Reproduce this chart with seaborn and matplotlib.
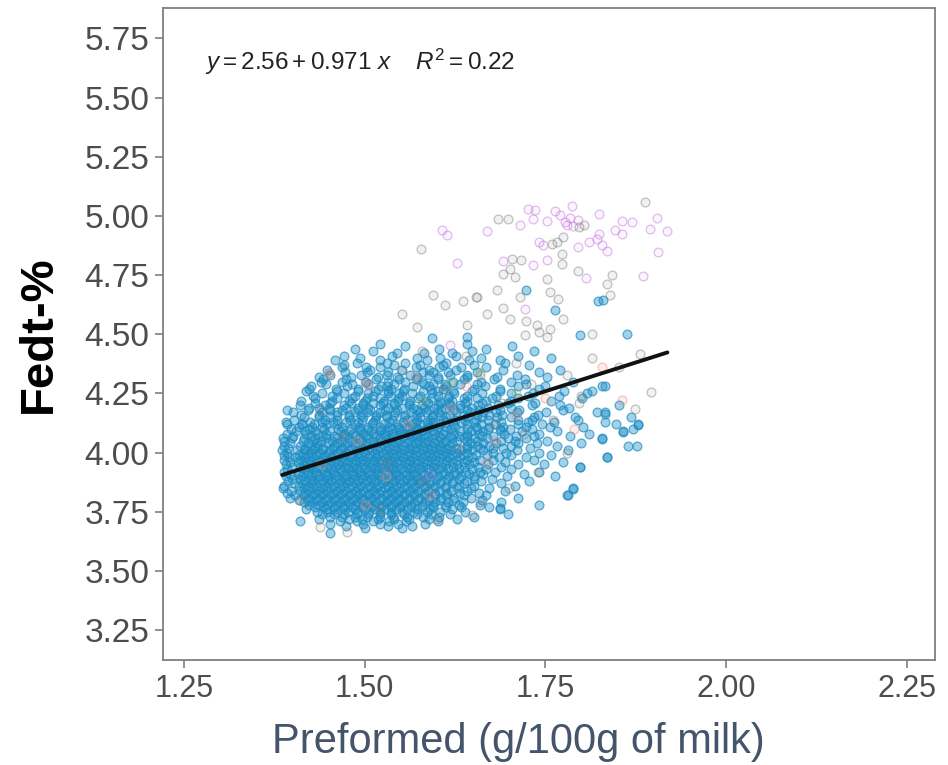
import pandas as pd
import matplotlib
matplotlib.use("Agg")
import matplotlib.pyplot as plt
import seaborn as sns
from matplotlib.colors import to_rgba

# fitted line as printed on the chart
intercept = 2.56
slope = 0.971
r2 = 0.22

x_ticks = [1.25, 1.50, 1.75, 2.00, 2.25]
y_ticks = [3.25, 3.50, 3.75, 4.00, 4.25, 4.50, 4.75, 5.00, 5.25, 5.50, 5.75]

# main blue cloud, read row by row (fat %, list of preformed values)
blue_rows = [
    (4.46, [1.521, 1.642]),
    (4.45, [1.556, 1.704]),
    (4.44, [1.603, 1.668, 1.487]),
    (4.43, [1.512, 1.648, 1.735]),
    (4.42, [1.582, 1.621, 1.545]),
    (4.41, [1.538, 1.627, 1.712, 1.471]),
    (4.40, [1.493, 1.572, 1.661, 1.758, 1.604]),
    (4.39, [1.521, 1.586, 1.645, 1.459, 1.688]),
    (4.38, [1.489, 1.556, 1.612, 1.694, 1.531]),
    (4.37, [1.471, 1.541, 1.609, 1.728, 1.577, 1.652]),
    (4.36, [1.468, 1.521, 1.571, 1.603, 1.668, 1.502, 1.633]),
    (4.35, [1.507, 1.552, 1.626, 1.692, 1.771, 1.448, 1.589]),
    (4.34, [1.473, 1.532, 1.581, 1.594, 1.656, 1.742, 1.615, 1.503]),
    (4.33, [1.452, 1.495, 1.531, 1.563, 1.618, 1.711, 1.642, 1.589]),
    (4.32, [1.481, 1.545, 1.601, 1.642, 1.683, 1.752, 1.437, 1.518, 1.572]),
    (4.31, [1.474, 1.516, 1.548, 1.571, 1.601, 1.637, 1.679, 1.442, 1.722]),
    (4.30, [1.439, 1.502, 1.579, 1.622, 1.661, 1.703, 1.789, 1.533, 1.468, 1.556]),
    (4.29, [1.447, 1.504, 1.541, 1.582, 1.595, 1.632, 1.724, 1.483, 1.655, 1.611]),
    (4.28, [1.476, 1.522, 1.531, 1.567, 1.612, 1.666, 1.712, 1.828, 1.426, 1.589, 1.749, 1.832]),
    (4.27, [1.423, 1.491, 1.519, 1.555, 1.592, 1.609, 1.651, 1.741, 1.461, 1.688, 1.537]),
    (4.26, [1.462, 1.491, 1.533, 1.553, 1.581, 1.622, 1.648, 1.687, 1.776, 1.814, 1.419, 1.602, 1.514]),
    (4.25, [1.441, 1.472, 1.533, 1.566, 1.593, 1.624, 1.702, 1.808, 1.504, 1.663, 1.548, 1.733]),
    (4.24, [1.455, 1.511, 1.552, 1.576, 1.602, 1.641, 1.682, 1.726, 1.428, 1.487, 1.617, 1.535, 1.769]),
    (4.23, [1.431, 1.483, 1.521, 1.574, 1.615, 1.655, 1.676, 1.801, 1.462, 1.547, 1.592, 1.712, 1.503, 1.637]),
    (4.22, [1.412, 1.455, 1.501, 1.546, 1.585, 1.621, 1.641, 1.702, 1.758, 1.478, 1.527, 1.563, 1.668, 1.604]),
    (4.21, [1.431, 1.481, 1.498, 1.525, 1.562, 1.588, 1.617, 1.662, 1.699, 1.452, 1.541, 1.604, 1.736, 1.512, 1.639]),
    (4.20, [1.411, 1.472, 1.521, 1.561, 1.601, 1.632, 1.657, 1.731, 1.852, 1.445, 1.498, 1.541, 1.579, 1.684, 1.618, 1.771]),
    (4.19, [1.423, 1.451, 1.474, 1.504, 1.552, 1.582, 1.611, 1.632, 1.671, 1.702, 1.783, 1.533, 1.491, 1.567, 1.648, 1.437, 1.596]),
    (4.18, [1.392, 1.452, 1.491, 1.528, 1.545, 1.572, 1.606, 1.641, 1.713, 1.774, 1.421, 1.508, 1.589, 1.658, 1.687, 1.469, 1.624]),
    (4.17, [1.401, 1.441, 1.486, 1.521, 1.564, 1.585, 1.601, 1.646, 1.682, 1.751, 1.821, 1.462, 1.503, 1.542, 1.626, 1.711, 1.664, 1.576, 1.832]),
    (4.16, [1.412, 1.437, 1.462, 1.495, 1.516, 1.540, 1.571, 1.594, 1.618, 1.655, 1.690, 1.740, 1.478, 1.556, 1.637, 1.529, 1.604, 1.672]),
    (4.15, [1.416, 1.452, 1.498, 1.531, 1.555, 1.576, 1.612, 1.662, 1.702, 1.791, 1.868, 1.437, 1.479, 1.516, 1.593, 1.641, 1.683, 1.735]),
    (4.14, [1.402, 1.445, 1.480, 1.515, 1.558, 1.591, 1.625, 1.639, 1.671, 1.731, 1.795, 1.462, 1.538, 1.573, 1.608, 1.654, 1.497, 1.712]),
    (4.13, [1.391, 1.425, 1.456, 1.491, 1.534, 1.571, 1.595, 1.612, 1.652, 1.726, 1.762, 1.832, 1.474, 1.512, 1.553, 1.633, 1.689, 1.441, 1.586]),
    (4.12, [1.392, 1.413, 1.430, 1.462, 1.510, 1.545, 1.565, 1.588, 1.622, 1.641, 1.680, 1.712, 1.848, 1.878, 1.487, 1.527, 1.603, 1.661, 1.448, 1.576, 1.746]),
    (4.11, [1.409, 1.441, 1.468, 1.492, 1.521, 1.546, 1.570, 1.602, 1.625, 1.654, 1.692, 1.756, 1.802, 1.427, 1.505, 1.534, 1.589, 1.612, 1.672, 1.558, 1.723]),
    (4.10, [1.398, 1.444, 1.481, 1.505, 1.522, 1.561, 1.585, 1.600, 1.641, 1.671, 1.701, 1.731, 1.871, 1.423, 1.463, 1.538, 1.574, 1.619, 1.655, 1.492, 1.548, 1.688]),
    (4.09, [1.405, 1.431, 1.452, 1.478, 1.509, 1.533, 1.552, 1.578, 1.611, 1.632, 1.664, 1.718, 1.766, 1.857, 1.418, 1.467, 1.495, 1.521, 1.566, 1.594, 1.647, 1.689]),
    (4.08, [1.392, 1.419, 1.446, 1.471, 1.498, 1.527, 1.549, 1.571, 1.596, 1.624, 1.658, 1.693, 1.742, 1.811, 1.434, 1.484, 1.512, 1.538, 1.582, 1.609, 1.641, 1.561]),
    (4.07, [1.401, 1.426, 1.458, 1.487, 1.514, 1.541, 1.566, 1.588, 1.618, 1.642, 1.677, 1.709, 1.784, 1.441, 1.472, 1.501, 1.528, 1.553, 1.603, 1.631, 1.662, 1.574, 1.735]),
    (4.06, [1.387, 1.399, 1.431, 1.462, 1.479, 1.505, 1.534, 1.557, 1.582, 1.606, 1.637, 1.669, 1.724, 1.828, 1.416, 1.447, 1.492, 1.521, 1.545, 1.571, 1.594, 1.621, 1.652, 1.698]),
    (4.05, [1.389, 1.414, 1.439, 1.468, 1.497, 1.522, 1.548, 1.575, 1.601, 1.628, 1.655, 1.689, 1.752, 1.428, 1.455, 1.483, 1.511, 1.536, 1.562, 1.588, 1.613, 1.641, 1.708]),
    (4.04, [1.397, 1.421, 1.449, 1.476, 1.503, 1.531, 1.559, 1.583, 1.608, 1.647, 1.682, 1.738, 1.799, 1.434, 1.462, 1.489, 1.517, 1.545, 1.571, 1.596, 1.621, 1.664, 1.712]),
    (4.03, [1.388, 1.411, 1.436, 1.458, 1.487, 1.514, 1.541, 1.566, 1.592, 1.617, 1.641, 1.672, 1.703, 1.864, 1.877, 1.424, 1.472, 1.501, 1.528, 1.553, 1.579, 1.604, 1.656, 1.766]),
    (4.02, [1.394, 1.418, 1.443, 1.469, 1.495, 1.521, 1.547, 1.573, 1.599, 1.626, 1.659, 1.692, 1.729, 1.431, 1.456, 1.482, 1.508, 1.534, 1.561, 1.586, 1.612, 1.642, 1.677]),
    (4.01, [1.386, 1.406, 1.429, 1.452, 1.478, 1.503, 1.529, 1.554, 1.581, 1.606, 1.633, 1.664, 1.711, 1.781, 1.417, 1.441, 1.466, 1.491, 1.517, 1.542, 1.568, 1.593, 1.619, 1.648]),
    (4.00, [1.393, 1.414, 1.438, 1.463, 1.489, 1.514, 1.538, 1.563, 1.589, 1.614, 1.642, 1.678, 1.742, 1.426, 1.451, 1.476, 1.501, 1.526, 1.551, 1.577, 1.602, 1.628, 1.695]),
    (3.99, [1.388, 1.409, 1.433, 1.457, 1.483, 1.507, 1.532, 1.558, 1.583, 1.608, 1.636, 1.669, 1.702, 1.421, 1.445, 1.471, 1.495, 1.519, 1.545, 1.571, 1.596, 1.621, 1.654, 1.758]),
    (3.98, [1.395, 1.418, 1.442, 1.468, 1.492, 1.516, 1.541, 1.566, 1.592, 1.617, 1.648, 1.686, 1.836, 1.404, 1.429, 1.455, 1.481, 1.504, 1.529, 1.553, 1.579, 1.604, 1.632, 1.723]),
    (3.97, [1.389, 1.411, 1.436, 1.461, 1.486, 1.511, 1.535, 1.561, 1.586, 1.612, 1.641, 1.677, 1.735, 1.423, 1.448, 1.473, 1.498, 1.523, 1.548, 1.573, 1.598, 1.626, 1.659]),
    (3.96, [1.397, 1.419, 1.444, 1.469, 1.494, 1.518, 1.543, 1.568, 1.593, 1.621, 1.652, 1.694, 1.775, 1.408, 1.432, 1.457, 1.482, 1.506, 1.531, 1.556, 1.581, 1.607, 1.637]),
    (3.95, [1.391, 1.414, 1.438, 1.463, 1.487, 1.512, 1.537, 1.561, 1.586, 1.613, 1.644, 1.671, 1.712, 1.426, 1.451, 1.475, 1.499, 1.524, 1.549, 1.574, 1.599, 1.628, 1.748]),
    (3.94, [1.399, 1.422, 1.446, 1.471, 1.495, 1.519, 1.544, 1.569, 1.594, 1.622, 1.657, 1.798, 1.410, 1.434, 1.459, 1.483, 1.507, 1.532, 1.557, 1.581, 1.607, 1.638, 1.689]),
    (3.93, [1.393, 1.417, 1.441, 1.466, 1.489, 1.514, 1.538, 1.563, 1.588, 1.615, 1.648, 1.702, 1.428, 1.453, 1.477, 1.501, 1.526, 1.551, 1.575, 1.601, 1.631, 1.668]),
    (3.92, [1.388, 1.409, 1.433, 1.458, 1.482, 1.506, 1.531, 1.556, 1.581, 1.608, 1.639, 1.681, 1.742, 1.421, 1.445, 1.469, 1.494, 1.518, 1.543, 1.568, 1.594, 1.623, 1.659]),
    (3.91, [1.396, 1.421, 1.446, 1.471, 1.495, 1.519, 1.544, 1.569, 1.595, 1.626, 1.664, 1.721, 1.408, 1.433, 1.458, 1.483, 1.507, 1.532, 1.557, 1.582, 1.611, 1.645]),
    (3.90, [1.391, 1.413, 1.437, 1.462, 1.486, 1.511, 1.536, 1.561, 1.587, 1.617, 1.652, 1.697, 1.426, 1.449, 1.474, 1.499, 1.523, 1.548, 1.573, 1.602, 1.634, 1.764]),
    (3.89, [1.399, 1.424, 1.448, 1.473, 1.497, 1.522, 1.547, 1.572, 1.599, 1.631, 1.676, 1.411, 1.436, 1.461, 1.485, 1.509, 1.534, 1.559, 1.585, 1.614, 1.652]),
    (3.88, [1.394, 1.418, 1.442, 1.467, 1.491, 1.515, 1.540, 1.565, 1.591, 1.622, 1.661, 1.728, 1.429, 1.454, 1.479, 1.503, 1.528, 1.553, 1.578, 1.606, 1.641]),
    (3.87, [1.402, 1.427, 1.451, 1.476, 1.501, 1.526, 1.551, 1.577, 1.604, 1.638, 1.689, 1.414, 1.439, 1.464, 1.488, 1.513, 1.538, 1.564, 1.591, 1.621]),
    (3.86, [1.389, 1.409, 1.433, 1.458, 1.482, 1.507, 1.532, 1.557, 1.583, 1.613, 1.652, 1.708, 1.421, 1.446, 1.470, 1.495, 1.519, 1.544, 1.570, 1.597, 1.631]),
    (3.85, [1.387, 1.416, 1.441, 1.466, 1.491, 1.516, 1.541, 1.567, 1.594, 1.628, 1.672, 1.788, 1.429, 1.453, 1.478, 1.503, 1.528, 1.554, 1.581, 1.611, 1.647]),
    (3.84, [1.398, 1.423, 1.448, 1.473, 1.498, 1.523, 1.548, 1.574, 1.603, 1.641, 1.411, 1.436, 1.461, 1.486, 1.511, 1.536, 1.561, 1.588, 1.619, 1.694]),
    (3.83, [1.393, 1.418, 1.443, 1.468, 1.493, 1.518, 1.543, 1.569, 1.598, 1.632, 1.431, 1.456, 1.481, 1.506, 1.531, 1.556, 1.583, 1.614, 1.658]),
    (3.82, [1.404, 1.429, 1.454, 1.479, 1.504, 1.529, 1.555, 1.582, 1.613, 1.668, 1.781, 1.416, 1.441, 1.466, 1.491, 1.516, 1.542, 1.568, 1.597, 1.638]),
    (3.81, [1.397, 1.422, 1.447, 1.472, 1.497, 1.522, 1.548, 1.575, 1.606, 1.647, 1.434, 1.459, 1.484, 1.509, 1.535, 1.561, 1.589, 1.624, 1.712]),
    (3.80, [1.409, 1.434, 1.459, 1.484, 1.509, 1.534, 1.561, 1.589, 1.622, 1.421, 1.446, 1.471, 1.496, 1.521, 1.547, 1.574, 1.604, 1.663]),
    (3.79, [1.416, 1.441, 1.466, 1.491, 1.516, 1.542, 1.569, 1.598, 1.636, 1.428, 1.453, 1.478, 1.503, 1.529, 1.555, 1.583, 1.615, 1.689]),
    (3.78, [1.423, 1.448, 1.473, 1.498, 1.524, 1.551, 1.579, 1.611, 1.659, 1.436, 1.461, 1.486, 1.511, 1.537, 1.564, 1.594, 1.631, 1.742]),
    (3.77, [1.431, 1.457, 1.483, 1.509, 1.536, 1.564, 1.595, 1.633, 1.444, 1.470, 1.496, 1.522, 1.549, 1.579, 1.612, 1.672]),
    (3.76, [1.419, 1.446, 1.473, 1.501, 1.529, 1.558, 1.591, 1.687, 1.459, 1.487, 1.515, 1.543, 1.573, 1.621]),
    (3.75, [1.434, 1.462, 1.491, 1.521, 1.552, 1.586, 1.639, 1.448, 1.477, 1.506, 1.536, 1.568, 1.604]),
    (3.74, [1.441, 1.472, 1.504, 1.537, 1.573, 1.618, 1.457, 1.489, 1.521, 1.555, 1.592, 1.698]),
    (3.73, [1.452, 1.486, 1.521, 1.558, 1.603, 1.469, 1.503, 1.539, 1.581, 1.651]),
    (3.72, [1.437, 1.478, 1.518, 1.561, 1.628, 1.497, 1.541, 1.589]),
    (3.71, [1.410, 1.466, 1.512, 1.557, 1.601, 1.489, 1.534]),
    (3.70, [1.452, 1.498, 1.546, 1.583, 1.521]),
    (3.69, [1.474, 1.533, 1.566]),
    (3.68, [1.501, 1.552]),
    (3.66, [1.452]),
]

# scattered blue points above the cloud
blue_extra = [(1.724, 4.689), (1.823, 4.642), (1.830, 4.646), (1.798, 4.498),
              (1.863, 4.503), (1.593, 4.486), (1.641, 4.490), (1.763, 4.604),
              (1.832, 4.165), (1.878, 4.118), (1.857, 4.089), (1.836, 3.983),
              (1.828, 4.059), (1.798, 3.941), (1.788, 3.848), (1.780, 3.823),
              (1.687, 3.764), (1.413, 4.122)]

gray_pts = [(1.888, 5.060), (1.698, 4.988), (1.684, 4.988), (1.804, 4.963), (1.797, 4.954),
            (1.766, 4.891), (1.774, 4.912), (1.759, 4.883), (1.773, 4.840), (1.773, 4.798),
            (1.717, 4.815), (1.704, 4.819), (1.701, 4.777), (1.691, 4.756), (1.708, 4.743),
            (1.752, 4.735), (1.795, 4.769), (1.842, 4.752), (1.835, 4.714), (1.839, 4.667),
            (1.683, 4.688), (1.655, 4.659), (1.715, 4.659), (1.756, 4.680), (1.767, 4.650),
            (1.691, 4.612), (1.670, 4.587), (1.701, 4.566), (1.724, 4.557), (1.738, 4.541),
            (1.742, 4.511), (1.756, 4.524), (1.752, 4.490), (1.774, 4.566), (1.814, 4.503),
            (1.881, 4.418), (1.722, 4.499), (1.578, 4.861), (1.594, 4.667), (1.611, 4.625),
            (1.636, 4.642), (1.654, 4.659), (1.552, 4.587), (1.572, 4.532), (1.641, 4.541),
            (1.874, 4.186), (1.897, 4.258), (1.438, 3.687), (1.475, 3.666), (1.648, 3.738),
            (1.410, 3.800), (1.520, 3.760), (1.600, 3.720), (1.660, 3.790), (1.700, 3.850),
            (1.740, 3.920), (1.780, 4.000), (1.720, 4.080), (1.760, 4.140), (1.690, 4.210),
            (1.730, 4.290), (1.660, 4.330), (1.610, 4.270), (1.550, 4.350), (1.500, 4.300),
            (1.440, 4.180), (1.470, 4.070), (1.530, 3.950), (1.580, 3.880), (1.630, 4.020),
            (1.680, 4.120), (1.800, 4.240), (1.780, 4.330), (1.710, 4.380), (1.640, 4.410),
            (1.580, 4.430), (1.852, 4.360), (1.814, 4.400), (1.797, 4.210), (1.451, 4.338)]

purple_pts = [(1.669, 4.938), (1.715, 4.963), (1.726, 5.030), (1.736, 5.026), (1.733, 4.988),
              (1.752, 4.980), (1.763, 5.022), (1.770, 5.005), (1.787, 5.043), (1.784, 4.992),
              (1.780, 4.963), (1.788, 4.959), (1.825, 5.009), (1.856, 4.980), (1.870, 4.975),
              (1.904, 4.992), (1.895, 4.946), (1.919, 4.938), (1.846, 4.942), (1.856, 4.925),
              (1.825, 4.925), (1.821, 4.904), (1.811, 4.891), (1.828, 4.878), (1.836, 4.853),
              (1.795, 4.870), (1.742, 4.891), (1.747, 4.878), (1.906, 4.849), (1.753, 4.815),
              (1.733, 4.794), (1.691, 4.811), (1.807, 4.739), (1.885, 4.747), (1.722, 4.608),
              (1.607, 4.942), (1.614, 4.921), (1.628, 4.802), (1.618, 4.456), (1.777, 4.975),
              (1.795, 4.984), (1.590, 3.907)]

salmon_pts = [(1.451, 4.338), (1.504, 4.287), (1.856, 4.224), (1.828, 4.363), (1.490, 4.050),
              (1.560, 4.120), (1.620, 4.190), (1.530, 3.900), (1.590, 3.820), (1.670, 3.960),
              (1.710, 4.160), (1.750, 4.230), (1.440, 3.950), (1.640, 4.280), (1.570, 4.320),
              (1.680, 4.050), (1.500, 3.780), (1.790, 4.100)]

green_pts = [(1.660, 4.340), (1.710, 4.250), (1.620, 4.300), (1.580, 4.220)]

blue_x = [x for y, xs in blue_rows for x in xs] + [p[0] for p in blue_extra]
blue_y = [y for y, xs in blue_rows for x in xs] + [p[1] for p in blue_extra]


def to_frame(pts):
    return pd.DataFrame(pts, columns=["preformed", "fat"])


groups = [
    (pd.DataFrame({"preformed": blue_x, "fat": blue_y}), "#1a8cc4", 0.40, 0.70),
    (to_frame(gray_pts), "#7a7a7a", 0.10, 0.45),
    (to_frame(salmon_pts), "#ef8a7a", 0.14, 0.50),
    (to_frame(green_pts), "#8fae5a", 0.12, 0.45),
    (to_frame(purple_pts), "#c77cdf", 0.08, 0.50),
]

sns.set_theme(style="ticks")
plt.rcParams['font.family'] = ['Liberation Sans', 'DejaVu Sans']
plt.rcParams['mathtext.fontset'] = 'custom'
plt.rcParams['mathtext.rm'] = 'Liberation Sans'
plt.rcParams['mathtext.it'] = 'Liberation Sans:italic'

fig = plt.figure(figsize=(9.48, 7.65), dpi=100)
ax = fig.add_axes([0.172, 0.137, 0.814, 0.852])

for d, col, fa, ea in groups:
    sns.scatterplot(data=d, x="preformed", y="fat", ax=ax, s=40, color=col,
                    edgecolor=col, linewidth=0.9, legend=False)
    coll = ax.collections[-1]
    coll.set_facecolor(to_rgba(col, fa))
    coll.set_edgecolor(to_rgba(col, ea))

# regression line over the data range
all_x = pd.concat([g[0]["preformed"] for g in groups])
line = pd.DataFrame({"preformed": [all_x.min(), all_x.max()]})
line["fat"] = intercept + slope * line["preformed"]
sns.lineplot(data=line, x="preformed", y="fat", ax=ax, color="#111111", linewidth=2.8)

ax.text(1.279, 5.651, r"$y = 2.56 + 0.971\ x\quad\; R^2 = 0.22$", fontsize=17.5,
        ha="left", va="center", color="#222222")

ax.set_xlim(1.221, 2.289)
ax.set_ylim(3.123, 5.877)
ax.set_xticks(x_ticks)
ax.set_xticklabels([f"{v:.2f}" for v in x_ticks])
ax.set_yticks(y_ticks)
ax.set_yticklabels([f"{v:.2f}" for v in y_ticks])
ax.tick_params(axis="both", length=6, width=1.2, color="#7f7f7f",
               labelcolor="#4d4d4d", pad=4)
ax.tick_params(axis="x", labelsize=22)
ax.tick_params(axis="y", labelsize=24)
for sp in ax.spines.values():
    sp.set_visible(True)
    sp.set_color("#7f7f7f")
    sp.set_linewidth(1.3)

ax.set_xlabel("Preformed (g/100g of milk)", fontsize=30, color="#44546a")
ax.xaxis.set_label_coords(0.46, -0.095)
ax.set_ylabel("Fedt-%", fontsize=34, fontweight="bold", color="black")
ax.yaxis.set_label_coords(-0.133, 0.5)

fig.savefig("out.png", dpi=100)
